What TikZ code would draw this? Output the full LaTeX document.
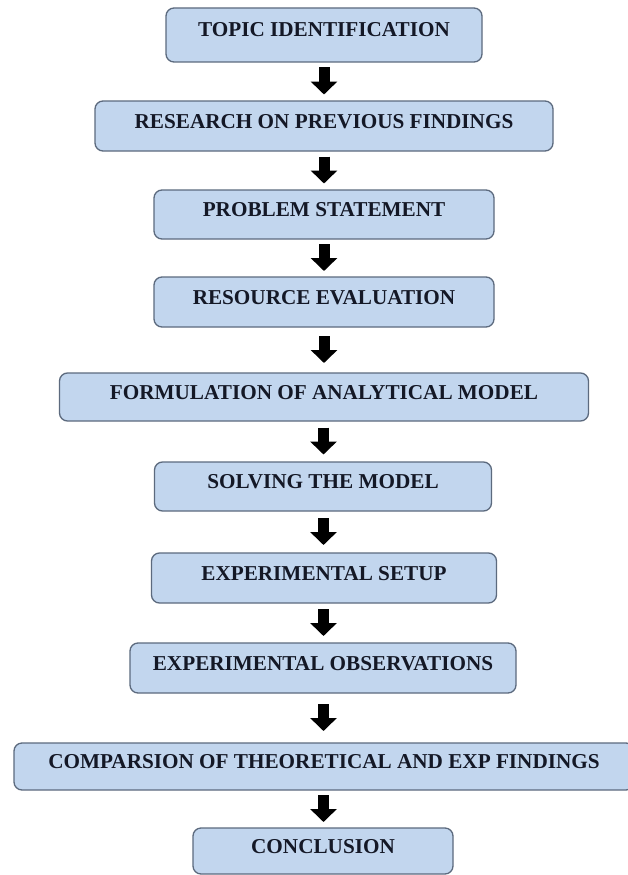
\documentclass[tikz,border=0pt]{standalone}
\usepackage{fontspec}
\setmainfont{Liberation Serif}
\usetikzlibrary{arrows.meta,calc}
\definecolor{boxfill}{RGB}{194,214,238}
\definecolor{boxline}{RGB}{92,106,126}
\definecolor{txt}{RGB}{20,24,38}
\begin{document}
\begin{tikzpicture}[x=1pt,y=-1pt,
  stepbox/.style={draw=boxline, fill=boxfill, line width=1.3pt, rounded corners=8pt,
    inner xsep=0pt, inner ysep=0pt, text height=17pt, text depth=13pt,
    font=\fontsize{21.2}{23}\selectfont\bfseries, text=txt, align=center},
  flowarrow/.style={line width=11pt, draw=black, -{Triangle[width=26pt,length=13pt]}}]
\useasboundingbox (0,0) rectangle (627,875);
\fill[white] (0,0) rectangle (627,875);
\node[stepbox, minimum width=316pt, minimum height=54pt] (n1) at (324,35) {TOPIC IDENTIFICATION};
\node[stepbox, minimum width=458pt, minimum height=50pt] (n2) at (324,126) {RESEARCH ON PREVIOUS FINDINGS};
\node[stepbox, minimum width=340pt, minimum height=49pt] (n3) at (324,214.5) {PROBLEM STATEMENT};
\node[stepbox, minimum width=340pt, minimum height=50pt] (n4) at (324,302) {RESOURCE EVALUATION};
\node[stepbox, minimum width=529pt, minimum height=48pt] (n5) at (324,397) {FORMULATION OF ANALYTICAL MODEL};
\node[stepbox, minimum width=337pt, minimum height=49pt] (n6) at (323,486.5) {SOLVING THE MODEL};
\node[stepbox, minimum width=345pt, minimum height=50pt] (n7) at (324,578) {EXPERIMENTAL SETUP};
\node[stepbox, minimum width=386pt, minimum height=50pt] (n8) at (323,668) {EXPERIMENTAL OBSERVATIONS};
\node[stepbox, minimum width=620pt, minimum height=47pt] (n9) at (324,766.5) {COMPARSION OF THEORETICAL AND EXP FINDINGS};
\node[stepbox, minimum width=260pt, minimum height=46pt] (n10) at (323,851) {CONCLUSION};
\foreach \a/\b in {n1/n2,n2/n3,n3/n4,n4/n5,n5/n6,n6/n7,n7/n8,n8/n9,n9/n10}
  \draw[flowarrow] ($(\a.south)!0.5!(\b.north)+(0,-14)$) -- ($(\a.south)!0.5!(\b.north)+(0,13)$);
\end{tikzpicture}
\end{document}
